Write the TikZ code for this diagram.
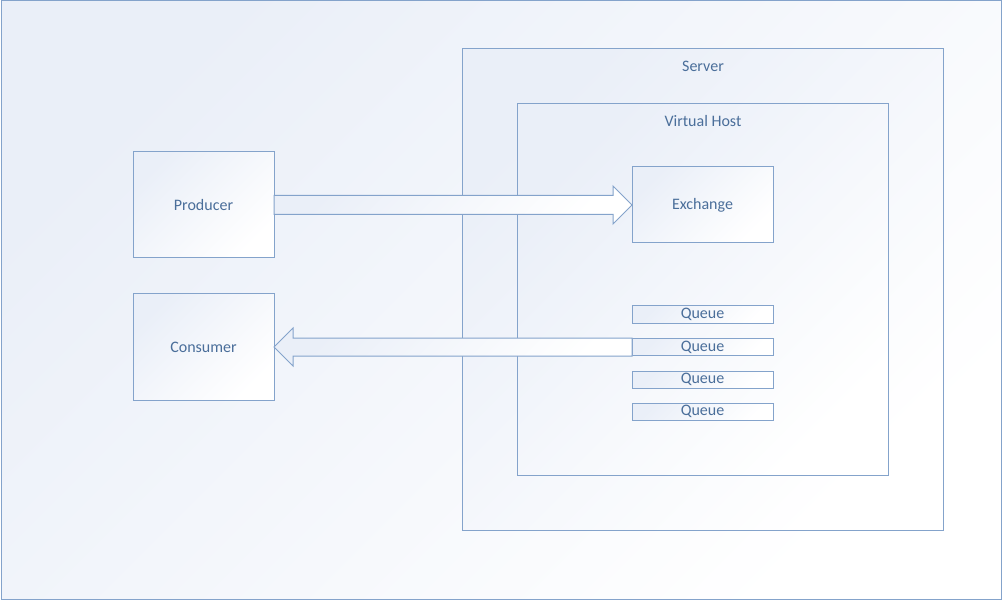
\documentclass[tikz,border=0pt]{standalone}
\usepackage{fontspec}
\setmainfont{Carlito}
\usetikzlibrary{calc}
\definecolor{stroke}{HTML}{84A3CB}
\definecolor{txt}{HTML}{4A6E9A}
\definecolor{tint}{HTML}{EAEFF8}
\begin{document}
\begin{tikzpicture}[x=1pt,y=-1pt,
  grad/.style={top color=tint, bottom color=white, shading angle=45},
  box/.style={draw=stroke, line width=1pt, grad, inner sep=0pt, outer sep=0pt,
    text=txt, font=\fontsize{16}{19}\selectfont},
  lbl/.style={text=txt, font=\fontsize{16}{19}\selectfont, inner sep=0pt},
  blockarrow/.style={draw=stroke, line width=1pt, line join=miter, grad}]
\useasboundingbox (0,0) rectangle (1003,601);
% background
\path[draw=stroke, line width=1pt, grad] (1,1) rectangle (1001,599.5);
% server and virtual host
\node[box, minimum width=481pt, minimum height=481pt] (server) at (702.5,289.5) {};
\node[lbl] (serverlbl) at (703,66) {Server};
\node[box, minimum width=371pt, minimum height=371pt] (vhost) at (702.5,289.5) {};
\node[lbl] (vhostlbl) at (703,121) {Virtual Host};
% clients
\node[box, minimum width=141pt, minimum height=106pt] (prod) at (203.5,205) {Producer};
\node[box, minimum width=141pt, minimum height=106pt] (cons) at (203.5,347) {Consumer};
% exchange and queues
\node[box, minimum width=141pt, minimum height=76pt] (exch) at (702.5,205) {Exchange};
\node[box, minimum width=141pt, minimum height=17pt] (q1) at (702.5,314.5) {Queue};
\node[box, minimum width=141pt, minimum height=17pt] (q2) at (702.5,347) {Queue};
\node[box, minimum width=141pt, minimum height=17pt] (q3) at (702.5,379.5) {Queue};
\node[box, minimum width=141pt, minimum height=17pt] (q4) at (702.5,411.5) {Queue};
% producer -> exchange
\path[blockarrow] ($(prod.east)+(0,-9.5)$) -- ($(exch.west)+(-19,-9.5)$)
  -- ($(exch.west)+(-19,-19)$) -- (exch.west) -- ($(exch.west)+(-19,19)$)
  -- ($(exch.west)+(-19,9.5)$) -- ($(prod.east)+(0,9.5)$) -- cycle;
% queue -> consumer
\path[blockarrow] ($(q2.west)+(0,-9)$) -- ($(cons.east)+(19,-9)$)
  -- ($(cons.east)+(19,-19)$) -- (cons.east) -- ($(cons.east)+(19,19)$)
  -- ($(cons.east)+(19,9)$) -- ($(q2.west)+(0,9)$) -- cycle;
\end{tikzpicture}
\end{document}
